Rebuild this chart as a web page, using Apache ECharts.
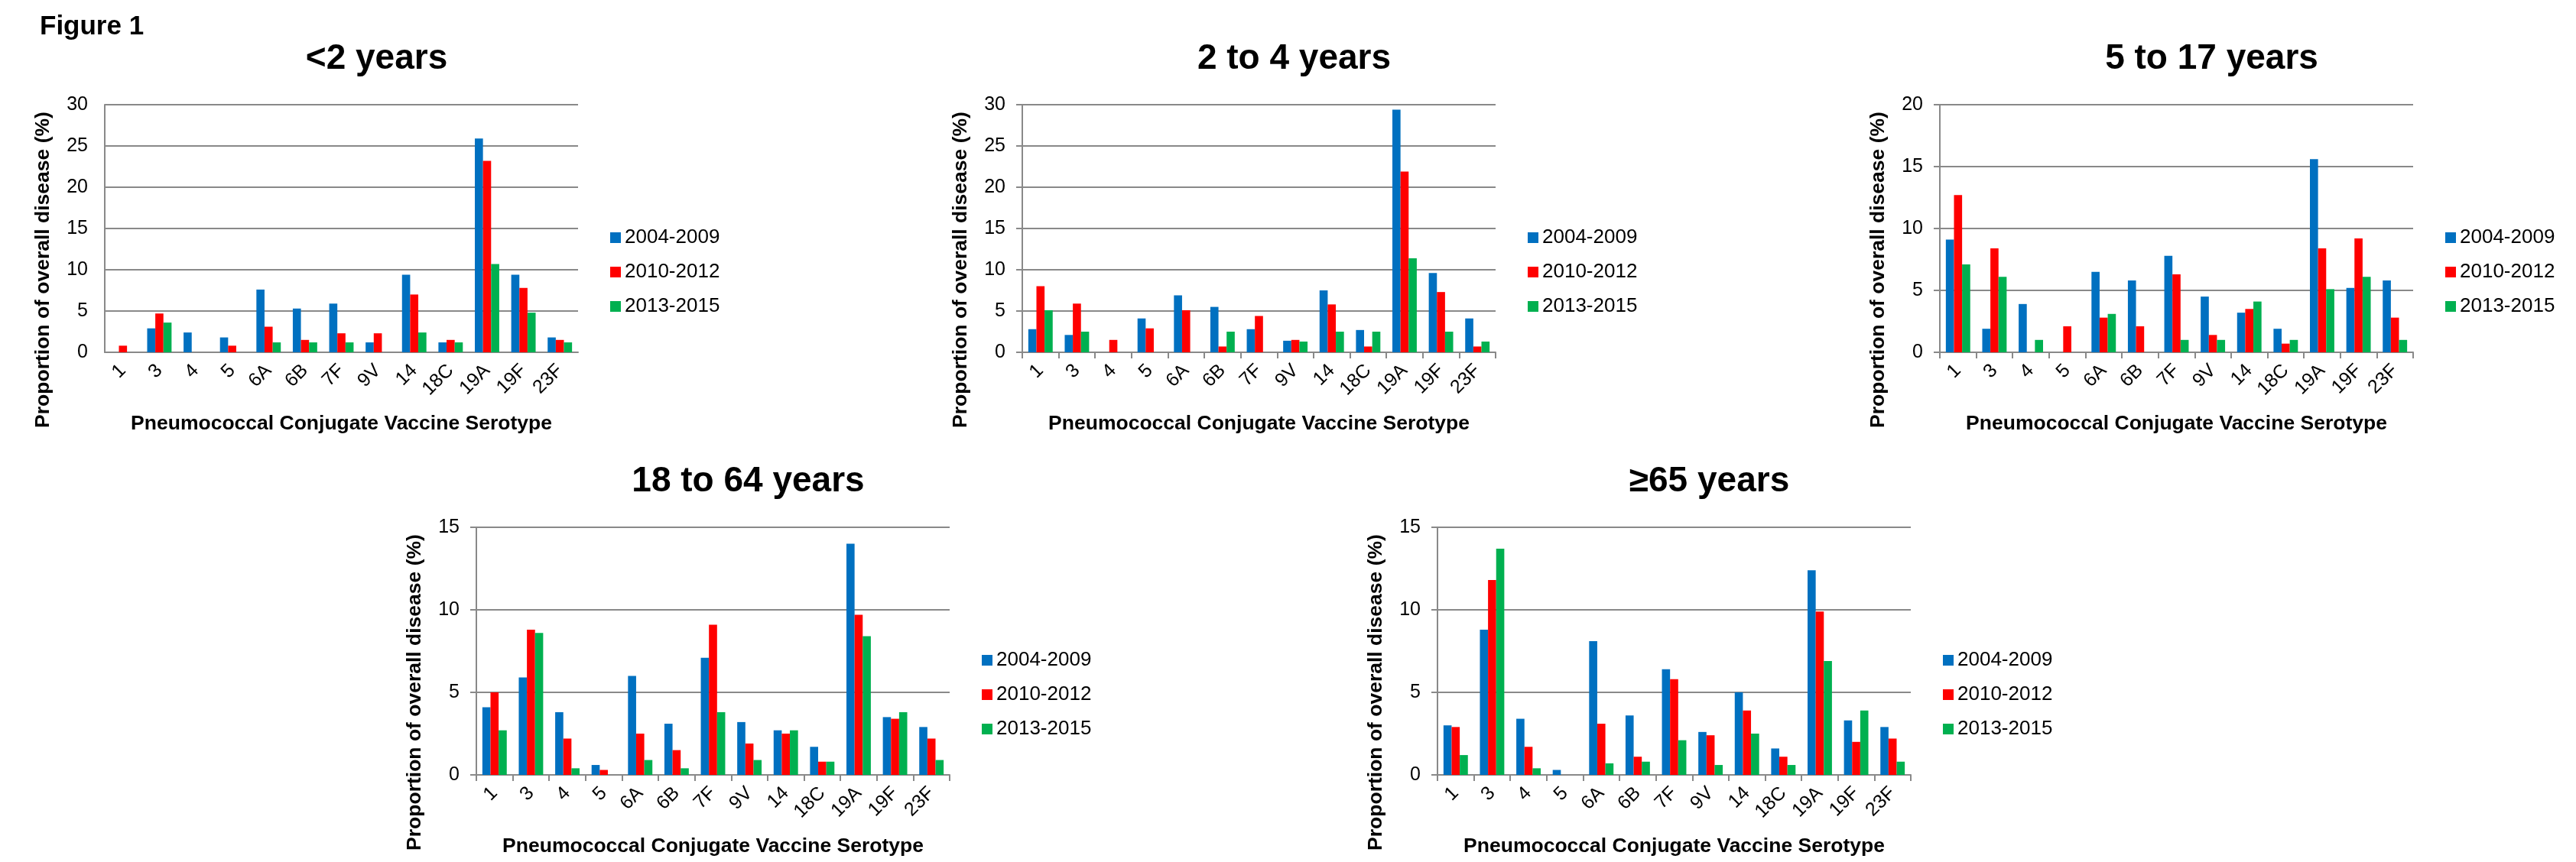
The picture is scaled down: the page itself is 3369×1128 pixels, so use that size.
<!DOCTYPE html>
<html>
<head>
<meta charset="utf-8">
<title>Figure 1</title>
<script src="https://cdn.jsdelivr.net/npm/echarts/dist/echarts.min.js"></script>
<style>
  html, body { margin: 0; padding: 0; background: #fff; }
  #chart { width: 3369px; height: 1128px; }
</style>
</head>
<body>
<div id="chart"></div>
<script>
// serotypes on the x axis, periods in the legend
const serotypes = ["1", "3", "4", "5", "6A", "6B", "7F", "9V", "14", "18C", "19A", "19F", "23F"];
const periods = ["2004-2009", "2010-2012", "2013-2015"];
const panelTitles = ["<2 years", "2 to 4 years", "5 to 17 years", "18 to 64 years", "\u226565 years"];
const yMax = [30, 30, 20, 15, 15];
const yStep = 5;

// <2 years
const lt2_0409 = [0, 2.9, 2.4, 1.8, 7.6, 5.3, 5.9, 1.2, 9.4, 1.2, 25.9, 9.4, 1.8];
const lt2_1012 = [0.8, 4.7, 0, 0.8, 3.1, 1.5, 2.3, 2.3, 7.0, 1.5, 23.2, 7.8, 1.5];
const lt2_1315 = [0, 3.6, 0, 0, 1.2, 1.2, 1.2, 0, 2.4, 1.2, 10.7, 4.8, 1.2];
// 2 to 4 years
const y2to4_0409 = [2.8, 2.1, 0, 4.1, 6.9, 5.5, 2.8, 1.4, 7.5, 2.7, 29.4, 9.6, 4.1];
const y2to4_1012 = [8.0, 5.9, 1.5, 2.9, 5.1, 0.7, 4.4, 1.5, 5.8, 0.7, 21.9, 7.3, 0.7];
const y2to4_1315 = [5.1, 2.5, 0, 0, 0, 2.5, 0, 1.3, 2.5, 2.5, 11.4, 2.5, 1.3];
// 5 to 17 years
const y5to17_0409 = [9.1, 1.9, 3.9, 0, 6.5, 5.8, 7.8, 4.5, 3.2, 1.9, 15.6, 5.2, 5.8];
const y5to17_1012 = [12.7, 8.4, 0, 2.1, 2.8, 2.1, 6.3, 1.4, 3.5, 0.7, 8.4, 9.2, 2.8];
const y5to17_1315 = [7.1, 6.1, 1.0, 0, 3.1, 0, 1.0, 1.0, 4.1, 1.0, 5.1, 6.1, 1.0];
// 18 to 64 years
const y18to64_0409 = [4.1, 5.9, 3.8, 0.6, 6.0, 3.1, 7.1, 3.2, 2.7, 1.7, 14.0, 3.5, 2.9];
const y18to64_1012 = [5.0, 8.8, 2.2, 0.3, 2.5, 1.5, 9.1, 1.9, 2.5, 0.8, 9.7, 3.4, 2.2];
const y18to64_1315 = [2.7, 8.6, 0.4, 0, 0.9, 0.4, 3.8, 0.9, 2.7, 0.8, 8.4, 3.8, 0.9];
// 65 years and over
const y65_0409 = [3.0, 8.8, 3.4, 0.3, 8.1, 3.6, 6.4, 2.6, 5.0, 1.6, 12.4, 3.3, 2.9];
const y65_1012 = [2.9, 11.8, 1.7, 0, 3.1, 1.1, 5.8, 2.4, 3.9, 1.1, 9.9, 2.0, 2.2];
const y65_1315 = [1.2, 13.7, 0.4, 0, 0.7, 0.8, 2.1, 0.6, 2.5, 0.6, 6.9, 3.9, 0.8];

const panelData = [
  [lt2_0409, lt2_1012, lt2_1315],
  [y2to4_0409, y2to4_1012, y2to4_1315],
  [y5to17_0409, y5to17_1012, y5to17_1315],
  [y18to64_0409, y18to64_1012, y18to64_1315],
  [y65_0409, y65_1012, y65_1315]
];

const colors = ["#0070C0", "#FF0000", "#00B050"];
const font = "'Liberation Sans', Arial, Helvetica, sans-serif";
const gray = "#898989";

// plot boxes (left, top) in px, all the same size
const boxes = [[137, 137], [1337, 137], [2537, 137], [623, 690], [1880, 690]];
const plotW = 619, plotH = 324;

let chart = echarts.init(document.getElementById("chart"), null, { renderer: "canvas" });

let grid = [], xAxis = [], yAxis = [], series = [], legend = [];
let graphic = [{
  type: "text", x: 52, y: 35,
  style: { text: "Figure 1", font: "bold 35px " + font, fill: "#000", align: "left", verticalAlign: "middle" }
}];

boxes.forEach(function (b, i) {
  let left = b[0], top = b[1];
  let ticks = i > 0;
  grid.push({ left: left, top: top, width: plotW, height: plotH, outerBoundsMode: "none", containLabel: false });
  xAxis.push({
    type: "category", gridIndex: i, data: serotypes,
    axisLine: { show: true, lineStyle: { color: gray, width: 2 } },
    axisTick: { show: ticks, length: 8, lineStyle: { color: gray, width: 2 } },
    axisLabel: { interval: 0, rotate: 45, margin: 20, fontSize: 25, color: "#000", fontFamily: font },
    splitLine: { show: false }
  });
  yAxis.push({
    type: "value", gridIndex: i, min: 0, max: yMax[i], interval: yStep,
    axisLine: { show: true, lineStyle: { color: gray, width: 2 } },
    axisTick: { show: ticks, length: 8, lineStyle: { color: gray, width: 2 } },
    splitLine: { show: true, lineStyle: { color: gray, width: 2 } },
    axisLabel: { margin: 22, fontSize: 25, color: "#000", fontFamily: font }
  });
  periods.forEach(function (p, j) {
    series.push({
      type: "bar", name: p, xAxisIndex: i, yAxisIndex: i,
      data: panelData[i][j],
      barGap: "0%", barCategoryGap: "33%",
      itemStyle: { color: colors[j] },
      animation: false
    });
  });
  legend.push({
    orient: "vertical", left: left + plotW + 42, top: top + 161, padding: 0,
    icon: "rect", itemWidth: 14, itemHeight: 14, itemGap: 19,
    data: periods,
    textStyle: { fontSize: 26, lineHeight: 26, color: "#000", fontFamily: font },
    selectedMode: false
  });
  // panel title
  graphic.push({
    type: "text", x: left + plotW / 2 + 46, y: top - 60,
    style: { text: panelTitles[i], font: "bold 46px " + font, fill: "#000", align: "center", verticalAlign: "middle" }
  });
  // x axis name
  graphic.push({
    type: "text", x: left + plotW / 2, y: top + plotH + 94,
    style: { text: "Pneumococcal Conjugate Vaccine Serotype", font: "bold 26.5px " + font, fill: "#000", align: "center", verticalAlign: "middle" }
  });
  // y axis name
  graphic.push({
    type: "text", x: left - 80, y: top + plotH / 2 + 54, rotation: Math.PI / 2,
    style: { text: "Proportion of overall disease (%)", font: "bold 26.5px " + font, fill: "#000", align: "center", verticalAlign: "middle" }
  });
});

let option = {
  backgroundColor: "#fff",
  animation: false,
  grid: grid,
  xAxis: xAxis,
  yAxis: yAxis,
  legend: legend,
  series: series,
  graphic: graphic
};
option && chart.setOption(option);
window.addEventListener("resize", function () {
  chart.resize();
});
</script>
</body>
</html>
